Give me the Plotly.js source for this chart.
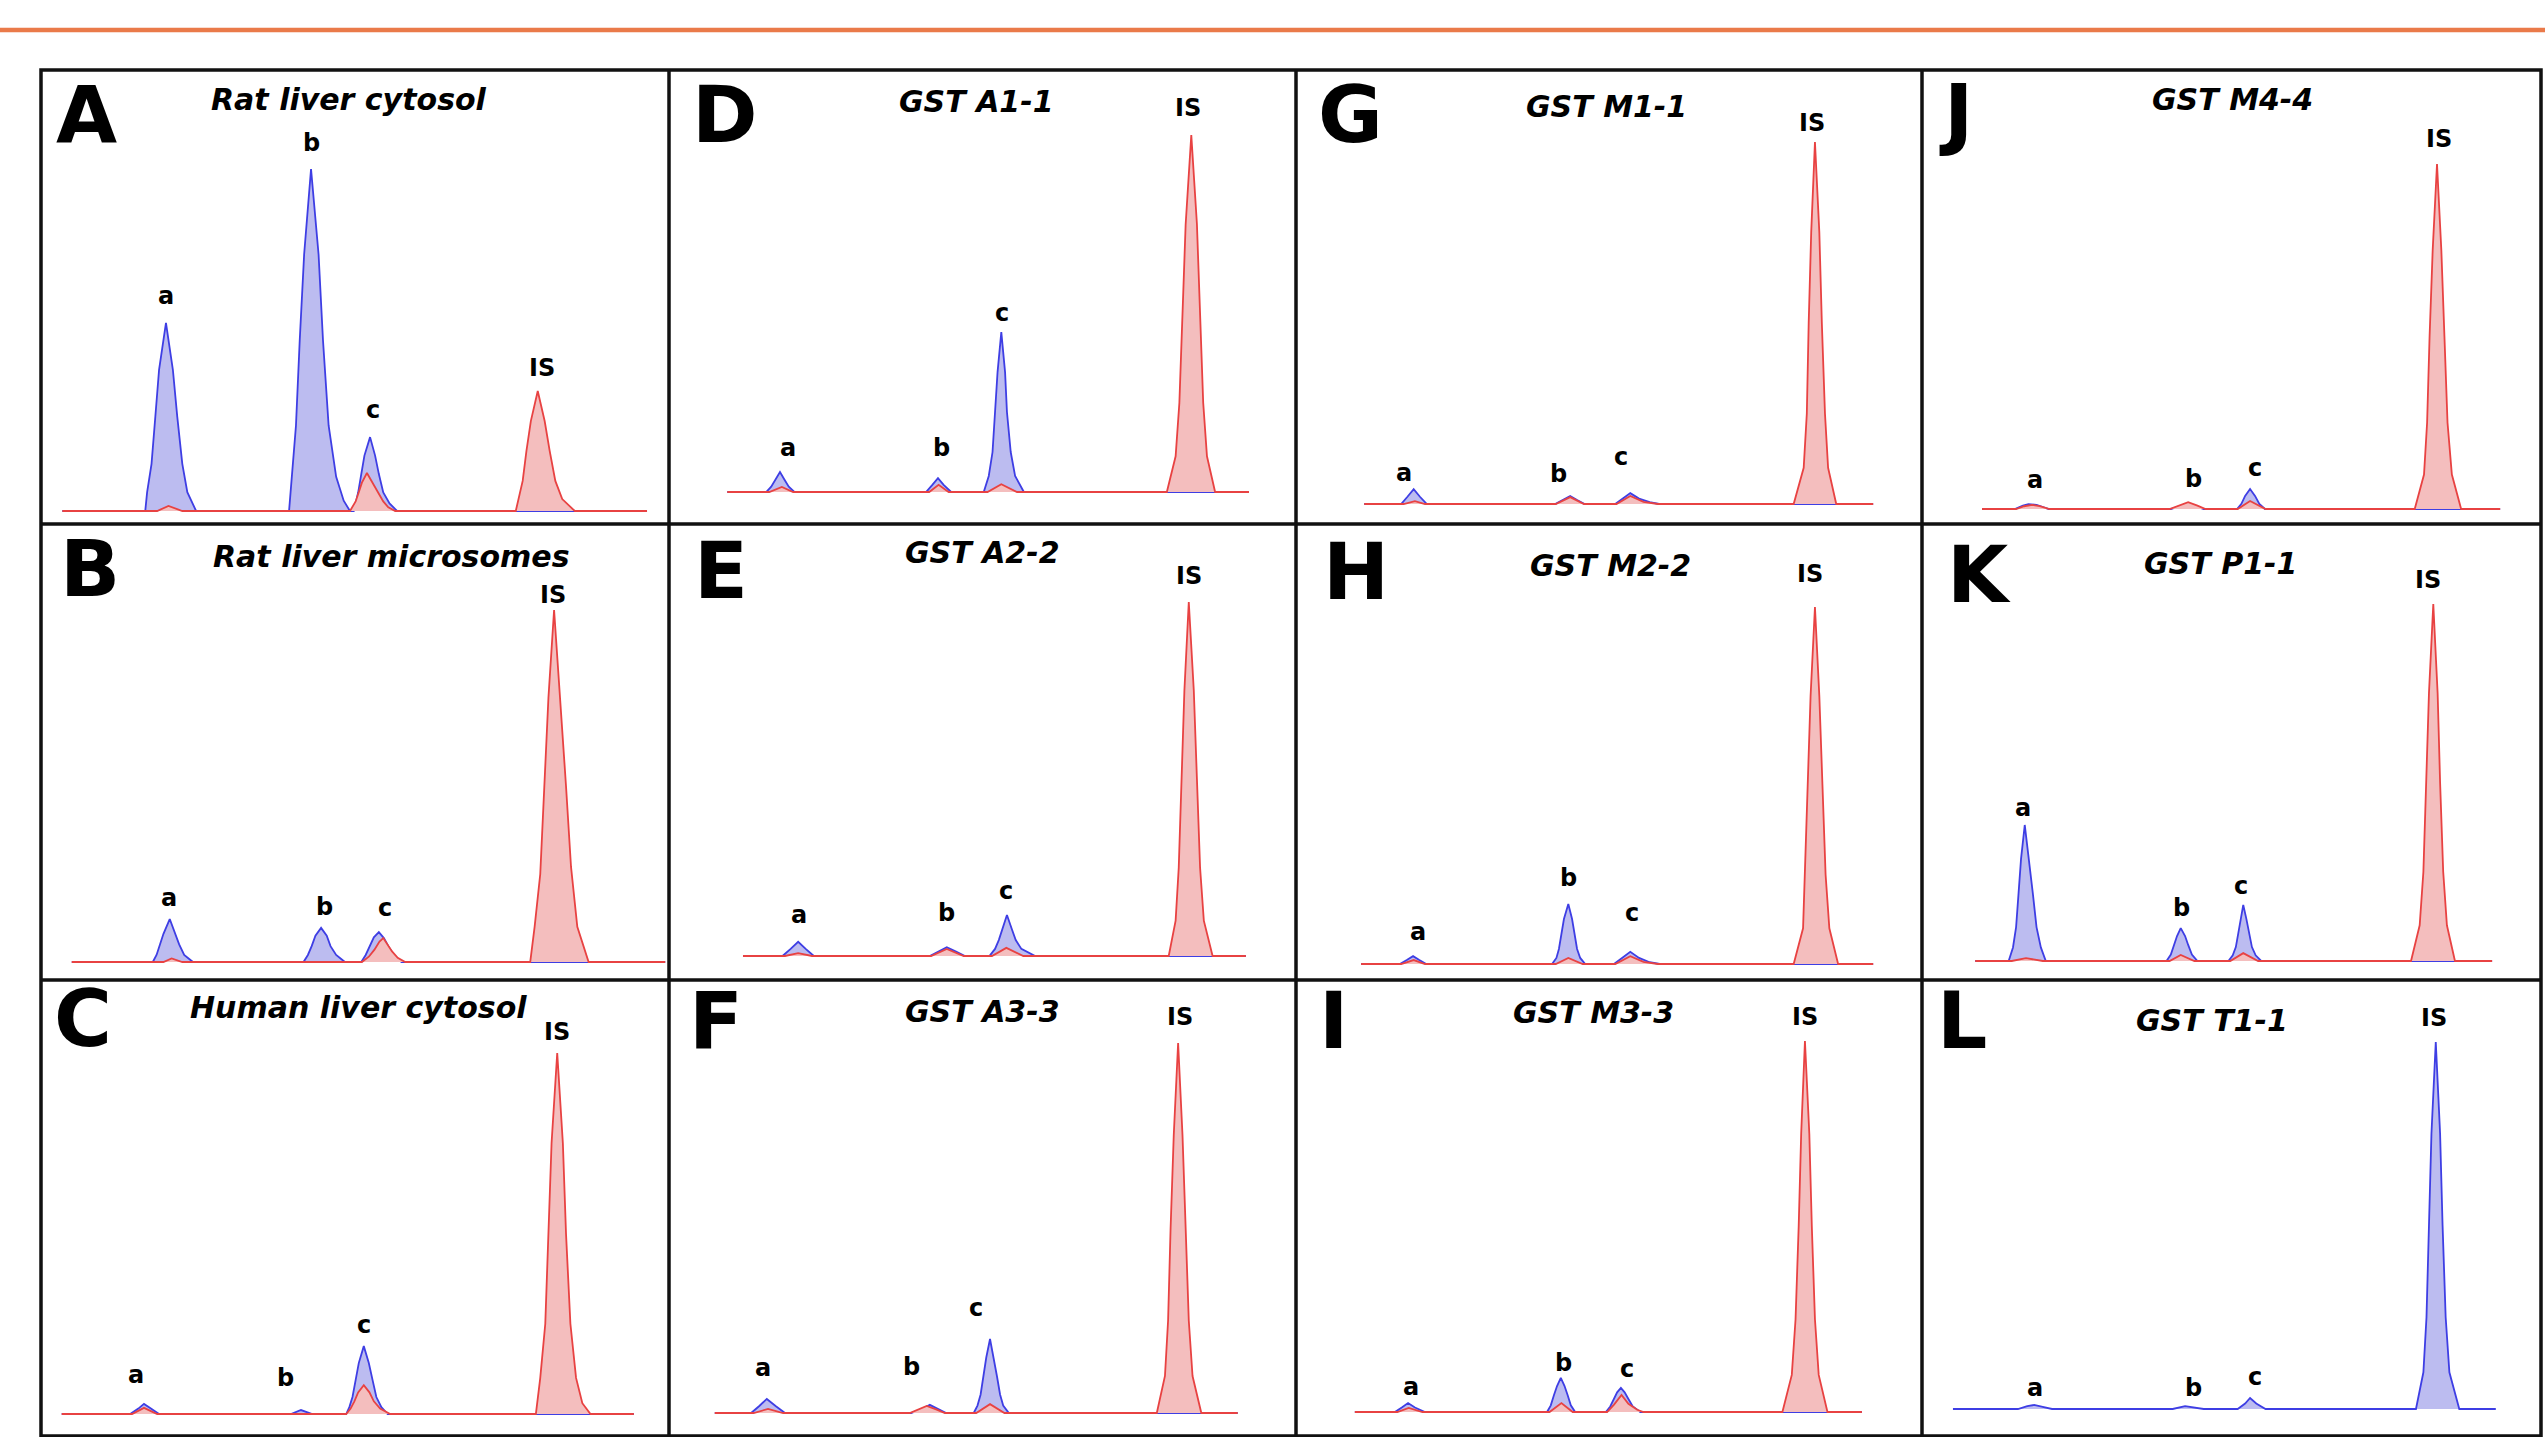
<!DOCTYPE html>
<html><head><meta charset="utf-8">
<script src="https://cdn.plot.ly/plotly-3.0.1.min.js"></script>
<style>html,body{margin:0;padding:0;background:#fff;}#chart{width:2545px;height:1437px;}</style>
</head><body><div id="chart"></div>
<script>
// ---------------- DATA (retention time in min, relative intensity %) ----------------
const panelIds = ['A','B','C','D','E','F','G','H','I','J','K','L'];
const panelTitles = ['Rat liver cytosol','Rat liver microsomes','Human liver cytosol',
  'GST A1-1','GST A2-2','GST A3-3','GST M1-1','GST M2-2','GST M3-3','GST M4-4','GST P1-1','GST T1-1'];
const peakNames = ['a','b','c','IS'];

const A_blue = [[0.34,0],[1.66,0],[1.69,5.5],[1.76,13.8],[1.82,27.5],[1.88,41.3],[1.99,55],[2.10,41.3],[2.17,27.5],[2.25,13.8],[2.33,5.5],[2.47,0],
  [3.95,0],[3.99,10],[4.06,25],[4.12,50],[4.19,75],[4.30,100],[4.42,75],[4.49,50],[4.58,25],[4.70,10],[4.82,3],[4.92,0],
  [4.98,0],[5.01,2.2],[5.05,5.4],[5.10,10.8],[5.15,16.2],[5.24,21.6],[5.32,16.2],[5.38,10.8],[5.45,5.4],[5.55,2.2],[5.67,0],[9.65,0]];
const A_red  = [[0.34,0],[1.85,0],[2.03,1.5],[2.25,0],
  [4.92,0],[4.96,1.1],[5.01,2.8],[5.06,5.5],[5.11,8.3],[5.19,11.1],[5.28,8.3],[5.36,5.5],[5.45,2.8],[5.53,1.1],[5.64,0],
  [7.56,0],[7.60,3.5],[7.67,8.8],[7.73,17.6],[7.80,26.3],[7.91,35.1],[8.02,26.3],[8.10,17.6],[8.19,8.8],[8.30,3.5],[8.50,0],[9.65,0]];

const B_blue = [[0.49,0],[1.78,0],[1.84,2],[1.90,5],[1.95,8],[2.05,12.2],[2.14,8],[2.20,5],[2.28,2],[2.42,0],
  [4.18,0],[4.25,2],[4.31,4.5],[4.37,7.5],[4.46,9.7],[4.55,7.5],[4.61,4.5],[4.70,2],[4.84,0],
  [5.10,0],[5.17,2],[5.23,4.5],[5.30,7],[5.38,8.5],[5.46,6.8],[5.53,4.5],[5.62,2],[5.74,0],[9.94,0]];
const B_red  = [[0.49,0],[1.95,0],[2.08,1],[2.25,0],
  [5.11,0],[5.22,1.5],[5.31,3.5],[5.39,5.8],[5.45,6.8],[5.52,5],[5.59,3],[5.68,1.2],[5.80,0],
  [7.79,0],[7.86,10],[7.95,25],[8.02,50],[8.08,75],[8.17,100],[8.27,75],[8.36,50],[8.44,27],[8.54,10],[8.72,0],[9.94,0]];

const C_blue = [[0.33,0],[1.42,0],[1.55,1.5],[1.64,2.8],[1.75,1.5],[1.88,0],[3.98,0],[4.14,1.1],[4.32,0],
  [4.86,0],[4.91,1.9],[4.96,4.7],[5.01,9.4],[5.06,14.1],[5.14,18.8],[5.22,14.1],[5.28,9.4],[5.34,4.7],[5.42,1.9],[5.52,0],[9.44,0]];
const C_red  = [[0.33,0],[1.45,0],[1.64,1.7],[1.85,0],
  [4.86,0],[4.93,1.5],[4.99,3.5],[5.05,6],[5.14,8.0],[5.23,6],[5.30,3.5],[5.40,1.5],[5.56,0],
  [7.88,0],[7.95,10],[8.03,25],[8.08,50],[8.13,75],[8.22,100],[8.31,75],[8.36,50],[8.43,25],[8.52,10],[8.62,3],[8.75,0],[9.44,0]];

const D_blue = [[0.93,0],[1.55,0],[1.63,1.5],[1.70,3.5],[1.77,5.6],[1.84,3.5],[1.91,1.5],[2.00,0],
  [4.10,0],[4.20,2],[4.29,3.9],[4.38,2],[4.50,0],
  [5.02,0],[5.10,4.5],[5.16,11.2],[5.20,22.4],[5.24,33.6],[5.30,44.8],[5.36,33.6],[5.39,22.4],[5.45,11.2],[5.52,4.5],[5.66,0],[9.25,0]];
const D_red  = [[0.93,0],[1.60,0],[1.80,1.4],[1.98,0],[4.15,0],[4.30,2],[4.46,0],[5.08,0],[5.30,2.2],[5.55,0],
  [7.94,0],[8.08,10],[8.14,25],[8.19,50],[8.24,75],[8.33,100],[8.42,75],[8.47,50],[8.52,25],[8.58,10],[8.71,0],[9.25,0]];

const E_blue = [[1.18,0],[1.81,0],[1.94,2],[2.06,4.0],[2.18,2],[2.31,0],[4.16,0],[4.30,1.3],[4.43,2.5],[4.57,1.3],[4.72,0],
  [5.11,0],[5.20,2],[5.26,4.5],[5.31,7.5],[5.39,11.6],[5.47,7.5],[5.53,4.5],[5.62,2],[5.84,0],[9.20,0]];
const E_red  = [[1.18,0],[1.85,0],[2.06,0.8],[2.28,0],[4.18,0],[4.43,2.0],[4.70,0],[5.15,0],[5.38,2.3],[5.65,0],
  [7.97,0],[8.08,10],[8.13,25],[8.17,50],[8.22,75],[8.29,100],[8.37,75],[8.42,50],[8.47,25],[8.53,10],[8.67,0],[9.20,0]];

const F_blue = [[0.73,0],[1.31,0],[1.44,1.9],[1.56,3.8],[1.70,1.9],[1.85,0],[3.86,0],[4.05,1.2],[4.16,2.2],[4.30,1],[4.42,0],
  [4.86,0],[4.92,2],[4.97,5],[5.01,10],[5.06,15],[5.12,20],[5.18,15],[5.23,10],[5.28,5],[5.33,2],[5.42,0],[9.07,0]];
const F_red  = [[0.73,0],[1.35,0],[1.58,1.1],[1.82,0],[3.84,0],[3.98,1],[4.11,1.9],[4.26,1],[4.40,0],[4.90,0],[5.12,2.4],[5.35,0],
  [7.78,0],[7.91,10],[7.96,25],[8.00,50],[8.05,75],[8.12,100],[8.19,75],[8.24,50],[8.29,25],[8.35,10],[8.49,0],[9.07,0]];

const G_blue = [[1.09,0],[1.68,0],[1.78,2],[1.88,4.1],[1.98,2],[2.09,0],[4.14,0],[4.27,1.1],[4.38,2.2],[4.49,1.1],[4.61,0],
  [5.10,0],[5.22,1.5],[5.34,3.0],[5.48,1.5],[5.65,0.5],[5.80,0],[9.22,0]];
const G_red  = [[1.09,0],[1.72,0],[1.90,0.8],[2.06,0],[4.15,0],[4.38,1.9],[4.60,0],[5.12,0],[5.34,2.2],[5.55,0.6],[5.78,0],
  [7.95,0],[8.11,10],[8.16,25],[8.19,50],[8.23,75],[8.29,100],[8.36,75],[8.40,50],[8.45,25],[8.50,10],[8.63,0],[9.22,0]];

const H_blue = [[1.04,0],[1.66,0],[1.77,1.1],[1.87,2.2],[1.97,1.1],[2.08,0],
  [4.09,0],[4.16,1.7],[4.20,4.2],[4.24,8.4],[4.28,12.6],[4.35,16.8],[4.41,12.6],[4.45,8.4],[4.49,4.2],[4.54,1.7],[4.62,0],
  [5.08,0],[5.22,1.7],[5.34,3.4],[5.48,1.7],[5.65,0.5],[5.81,0],[9.22,0]];
const H_red  = [[1.04,0],[1.68,0],[1.88,1.1],[2.06,0],[4.15,0],[4.35,1.7],[4.58,0],[5.10,0],[5.34,2.2],[5.55,0.6],[5.78,0],
  [7.95,0],[8.10,10],[8.13,25],[8.17,50],[8.22,75],[8.29,100],[8.36,75],[8.41,50],[8.46,25],[8.52,10],[8.66,0],[9.22,0]];

const I_blue = [[0.94,0],[1.58,0],[1.69,1.2],[1.79,2.4],[1.90,1.2],[2.06,0],
  [4.01,0],[4.07,1.8],[4.12,4.5],[4.17,7],[4.23,9.2],[4.29,7],[4.34,4.5],[4.39,1.8],[4.46,0],
  [4.95,0],[5.02,1.5],[5.08,3.5],[5.13,5.3],[5.19,6.5],[5.25,5.3],[5.31,3.5],[5.38,1.5],[5.50,0],[9.04,0]];
const I_red  = [[0.94,0],[1.62,0],[1.80,1.1],[2.02,0],[4.05,0],[4.24,2.4],[4.42,0],
  [4.97,0],[5.08,2],[5.20,4.6],[5.31,2.2],[5.45,0.6],[5.55,0],
  [7.77,0],[7.92,10],[7.98,25],[8.03,50],[8.07,75],[8.13,100],[8.20,75],[8.24,50],[8.29,25],[8.35,10],[8.49,0],[9.04,0]];

const J_blue = [[0.97,0],[1.50,0],[1.63,1.0],[1.72,1.4],[1.85,1.2],[2.05,0],[4.02,0],[4.30,1.6],[4.55,0],
  [5.09,0],[5.16,1.5],[5.22,3.8],[5.30,5.8],[5.38,3.8],[5.45,1.5],[5.54,0],[9.34,0]];
const J_red  = [[0.97,0],[1.52,0],[1.65,0.8],[1.78,1.2],[1.90,0.8],[2.06,0],[4.00,0],[4.15,1.0],[4.30,2.0],[4.45,1.0],[4.58,0],
  [5.10,0],[5.30,2.3],[5.55,0],
  [7.96,0],[8.11,10],[8.16,25],[8.20,50],[8.25,75],[8.32,100],[8.39,75],[8.44,50],[8.49,25],[8.56,10],[8.71,0],[9.34,0]];

const K_blue = [[0.86,0],[1.40,0],[1.47,3.8],[1.52,9.5],[1.56,19],[1.60,28.6],[1.66,38.1],[1.73,28.6],[1.79,19],[1.85,9.5],[1.92,3.8],[2.00,0],
  [3.95,0],[4.02,1.8],[4.07,4.5],[4.12,7],[4.18,9.2],[4.25,7],[4.30,4.5],[4.36,1.8],[4.45,0],
  [4.95,0],[5.02,1.6],[5.07,3.9],[5.11,7.8],[5.15,11.8],[5.19,15.7],[5.24,11.8],[5.28,7.8],[5.33,3.9],[5.39,1.6],[5.48,0],[9.21,0]];
const K_red  = [[0.86,0],[1.45,0],[1.68,0.8],[1.95,0],[4.00,0],[4.18,1.7],[4.40,0],[4.98,0],[5.19,2.2],[5.43,0],
  [7.90,0],[8.04,10],[8.10,25],[8.15,50],[8.19,75],[8.26,100],[8.33,75],[8.37,50],[8.42,25],[8.48,10],[8.61,0],[9.21,0]];

const L_blue = [[0.50,0],[1.55,0],[1.70,0.8],[1.81,1.1],[1.95,0.6],[2.10,0],[4.05,0],[4.25,0.8],[4.55,0],
  [5.10,0],[5.22,1.5],[5.30,3.0],[5.40,1.5],[5.55,0],
  [7.98,0],[8.10,10],[8.15,25],[8.19,50],[8.23,75],[8.30,100],[8.37,75],[8.41,50],[8.46,25],[8.52,10],[8.68,0],[9.27,0]];
const L_red  = null;

const blueSeries = [A_blue,B_blue,C_blue,D_blue,E_blue,F_blue,G_blue,H_blue,I_blue,J_blue,K_blue,L_blue];
const redSeries  = [A_red,B_red,C_red,D_red,E_red,F_red,G_red,H_red,I_red,J_red,K_red,L_red];

// ---------------- LAYOUT (pixel geometry, styles) ----------------
const W = 2545, H = 1437;
const colL = [41,669,1296,1922], colR = [669,1296,1922,2541];
const rowT = [70,524,980], rowB = [524,980,1436];
const baselinePx = [511,962,1414,492,956,1413,504,964,1412,509,961,1409];
const fullScalePx = [169,610,1053,135,602,1043,142,607,1041,164,604,1042];
const letterPos = [[54,115],[58,569],[52,1019],[690,115],[692,571],[687,1021],[1316,115],[1321,572],[1317,1021],[1937,113],[1945,575],[1935,1021]];
const titlePos = [[349,100],[391,557],[358,1007],[976,101],[982,552],[982,1011],[1606,106],[1610,565],[1593,1013],[2232,100],[2220,563],[2212,1020]];
const labelPos = [
  [[1.99,62.9],[4.30,107.6],[5.29,29.5],[7.98,41.8]],
  [[2.04,18.2],[4.52,15.6],[5.48,15.3],[8.15,104.3]],
  [[1.51,10.8],[3.90,10.0],[5.14,24.7],[8.22,105.8]],
  [[1.90,12.3],[4.34,12.3],[5.31,50.1],[8.28,107.6]],
  [[2.07,11.6],[4.43,12.1],[5.37,18.4],[8.29,107.3]],
  [[1.50,12.2],[3.86,12.4],[4.90,28.4],[8.15,107.0]],
  [[1.73,8.6],[4.19,8.3],[5.19,13.0],[8.24,105.2]],
  [[1.95,9.0],[4.36,24.1],[5.37,14.3],[8.21,109.2]],
  [[1.84,6.7],[4.28,13.2],[5.29,11.6],[8.13,106.5]],
  [[1.83,8.4],[4.38,8.7],[5.38,11.9],[8.35,107.2]],
  [[1.63,42.9],[4.20,14.8],[5.15,21.0],[8.17,106.7]],
  [[1.83,5.7],[4.38,5.7],[5.38,8.7],[8.27,106.5]]
];

const BLUE = 'rgb(62,62,228)', BLUE_FILL = 'rgb(188,188,240)';
const RED = 'rgb(232,66,66)', RED_FILL = 'rgb(244,190,190)';
const FONT = 'DejaVu Sans, Liberation Sans, Arial, sans-serif';

const traces = [];
const layout = {
  width: W, height: H, margin: {l:0,r:0,t:0,b:0},
  paper_bgcolor: '#fff', plot_bgcolor: 'rgba(0,0,0,0)', showlegend: false,
  annotations: [], shapes: []
};

panelIds.forEach((id, k) => {
  const col = Math.floor(k/3), row = k % 3;
  const ax = k === 0 ? '' : String(k+1);
  const s = (baselinePx[k] - fullScalePx[k]) / 100;
  const ymin = -(rowB[row] - baselinePx[k]) / s;
  const ymax = ymin + (rowB[row] - rowT[row]) / s;
  layout['xaxis'+ax] = {domain:[colL[col]/W, colR[col]/W], range:[0,10], visible:false, fixedrange:true, anchor:'y'+ax};
  layout['yaxis'+ax] = {domain:[1-rowB[row]/H, 1-rowT[row]/H], range:[ymin,ymax], visible:false, fixedrange:true, anchor:'x'+ax};
  const b = blueSeries[k];
  traces.push({x:b.map(p=>p[0]), y:b.map(p=>p[1]), xaxis:'x'+ax, yaxis:'y'+ax, type:'scatter', mode:'lines',
    line:{color:BLUE, width:1.8}, fill:'tozeroy', fillcolor:BLUE_FILL, hoverinfo:'skip'});
  const r = redSeries[k];
  if (r) traces.push({x:r.map(p=>p[0]), y:r.map(p=>p[1]), xaxis:'x'+ax, yaxis:'y'+ax, type:'scatter', mode:'lines',
    line:{color:RED, width:1.8}, fill:'tozeroy', fillcolor:RED_FILL, hoverinfo:'skip'});

  layout.annotations.push({xref:'paper', yref:'paper', x:letterPos[k][0]/W, y:1-letterPos[k][1]/H,
    xanchor:'left', yanchor:'middle', showarrow:false, text:'<b>'+id+'</b>',
    font:{family:FONT, size:79, color:'#000'}});
  layout.annotations.push({xref:'paper', yref:'paper', x:titlePos[k][0]/W, y:1-titlePos[k][1]/H,
    xanchor:'center', yanchor:'middle', showarrow:false, text:'<b><i>'+panelTitles[k]+'</i></b>',
    font:{family:FONT, size:30, color:'#000'}});
  peakNames.forEach((nm, j) => {
    layout.annotations.push({xref:'x'+ax, yref:'y'+ax, x:labelPos[k][j][0], y:labelPos[k][j][1],
      xanchor:'center', yanchor:'middle', showarrow:false, text:'<b>'+nm+'</b>',
      font:{family:FONT, size:24, color:'#000'}});
  });
});

const LW = 3.5, LC = '#111';
layout.shapes.push({type:'rect', xref:'paper', yref:'paper', x0:colL[0]/W, x1:colR[3]/W, y0:1-rowB[2]/H, y1:1-rowT[0]/H, line:{color:LC,width:LW}});
[669,1296,1922].forEach(xp => layout.shapes.push({type:'line', xref:'paper', yref:'paper', x0:xp/W, x1:xp/W, y0:1-rowB[2]/H, y1:1-rowT[0]/H, line:{color:LC,width:LW}}));
[524,980].forEach(yp => layout.shapes.push({type:'line', xref:'paper', yref:'paper', x0:colL[0]/W, x1:colR[3]/W, y0:1-yp/H, y1:1-yp/H, line:{color:LC,width:LW}}));
layout.shapes.push({type:'line', xref:'paper', yref:'paper', x0:0, x1:1, y0:1-30/H, y1:1-30/H, line:{color:'rgb(234,122,74)', width:4.5}});

Plotly.newPlot('chart', traces, layout, {staticPlot:true, displayModeBar:false});
</script></body></html>
